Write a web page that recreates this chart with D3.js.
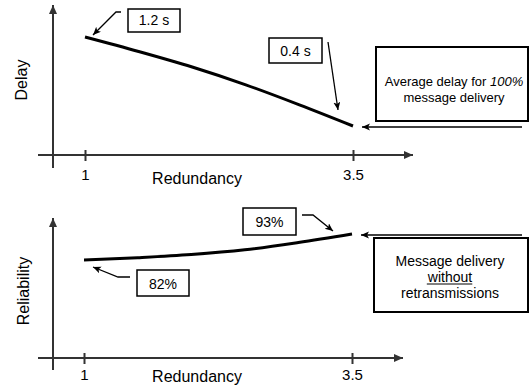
<!DOCTYPE html>
<html>
<head>
<meta charset="utf-8">
<script src="https://cdn.jsdelivr.net/npm/d3@7"></script>
<style>
  body { margin: 0; background: #fff; }
  svg { display: block; font-family: Arial, "Liberation Sans", sans-serif; }
</style>
</head>
<body>
<svg width="529" height="385"></svg>
<script>
// data
const redundancy = [1, 1.5, 2, 2.5, 3, 3.5];
const delay = [1.2, 1.07, 0.93, 0.77, 0.59, 0.4];
const reliability = [82, 83.0, 84.3, 86.3, 89.4, 93];
const xTicks = [1, 3.5];

const svg = d3.select('svg');
const axisColor = '#333';
const fontFamily = 'Arial, "Liberation Sans", sans-serif';

const defs = svg.append('defs');
defs.append('marker')
    .attr('id', 'axisHead')
    .attr('markerUnits', 'userSpaceOnUse')
    .attr('markerWidth', 10).attr('markerHeight', 10)
    .attr('refX', 9).attr('refY', 4)
    .attr('orient', 'auto')
  .append('path')
    .attr('d', 'M0,0 L9,4 L0,8 Z')
    .attr('fill', axisColor);

defs.append('marker')
    .attr('id', 'tip')
    .attr('markerUnits', 'userSpaceOnUse')
    .attr('markerWidth', 10).attr('markerHeight', 8)
    .attr('refX', 8).attr('refY', 3.5)
    .attr('orient', 'auto')
  .append('path')
    .attr('d', 'M0,0 L8,3.5 L0,7 L2,3.5 Z')
    .attr('fill', '#000');

const line = (x, y, values) => d3.line()
    .x((d, i) => x(redundancy[i]))
    .y(d => y(d))
    .curve(d3.curveMonotoneX)(values);

const drawPanel = p => {
  const g = svg.append('g');

  // axes with arrows
  g.append('line')
      .attr('x1', 53).attr('y1', p.axisBottom)
      .attr('x2', 53).attr('y2', p.axisTop)
      .attr('stroke', axisColor).attr('stroke-width', 2)
      .attr('marker-end', 'url(#axisHead)');
  g.append('line')
      .attr('x1', 38).attr('y1', p.axisY)
      .attr('x2', p.axisRight).attr('y2', p.axisY)
      .attr('stroke', axisColor).attr('stroke-width', 2)
      .attr('marker-end', 'url(#axisHead)');

  const xAxis = d3.axisBottom(p.x)
      .tickValues(xTicks)
      .tickSize(11)
      .tickFormat(d3.format(''));

  const ax = g.append('g')
      .attr('transform', `translate(0, ${p.axisY - 5})`)
      .call(xAxis)
      .attr('font-family', fontFamily)
      .attr('font-size', 15);
  ax.select('.domain').remove();
  ax.selectAll('.tick line').attr('stroke', axisColor).attr('stroke-width', 2);
  ax.selectAll('.tick text')
      .attr('y', p.labelY - (p.axisY - 5))
      .attr('dy', 0)
      .attr('fill', '#000');

  g.append('text')
      .attr('x', 197).attr('y', p.titleY)
      .attr('text-anchor', 'middle')
      .style('font-size', '16px')
      .text('Redundancy');

  g.append('text')
      .attr('transform', `translate(${p.yTitleX}, ${p.yTitleY}) rotate(-90)`)
      .attr('text-anchor', 'middle')
      .style('font-size', '16px')
      .text(p.yTitle);

  // the curve
  g.append('path')
      .attr('d', line(p.x, p.y, p.values))
      .attr('fill', 'none')
      .attr('stroke', '#000')
      .attr('stroke-width', 3);

  // small value boxes
  p.notes.forEach(n => {
    g.append('rect')
        .attr('x', n.box[0]).attr('y', n.box[1])
        .attr('width', n.box[2]).attr('height', n.box[3])
        .attr('fill', '#fff').attr('stroke', '#000').attr('stroke-width', 1.5);
    g.append('text')
        .attr('x', n.box[0] + n.box[2] / 2).attr('y', n.baseline)
        .attr('text-anchor', 'middle')
        .style('font-size', '14px')
        .text(n.label);
    g.append('polyline')
        .attr('points', n.arrow.map(d => d.join(',')).join(' '))
        .attr('fill', 'none').attr('stroke', '#000').attr('stroke-width', 1.3)
        .attr('marker-end', 'url(#tip)');
  });

  // explanation box and pointer to the curve end
  const b = p.bigBox;
  g.append('rect')
      .attr('x', b.box[0]).attr('y', b.box[1])
      .attr('width', b.box[2]).attr('height', b.box[3])
      .attr('fill', '#fff').attr('stroke', '#000').attr('stroke-width', 2);
  b.lines.forEach((l, i) => {
    const t = g.append('text')
        .attr('x', b.cx).attr('y', b.firstBaseline + i * 16)
        .attr('text-anchor', 'middle')
        .style('font-size', b.size + 'px');
    l.forEach(part => {
      t.append('tspan')
          .style('font-style', part.italic ? 'italic' : 'normal')
          .text(part.text);
    });
    if (l.underline) {
      const bb = t.node().getBBox();
      g.append('line')
          .attr('x1', bb.x).attr('x2', bb.x + bb.width)
          .attr('y1', b.firstBaseline + i * 16 + 2.5)
          .attr('y2', b.firstBaseline + i * 16 + 2.5)
          .attr('stroke', '#000').attr('stroke-width', 1);
    }
  });

  const endX = p.x(redundancy[redundancy.length - 1]);
  const endY = p.y(p.values[p.values.length - 1]);
  g.append('line')
      .attr('x1', 522).attr('y1', endY + 1)
      .attr('x2', endX + 9).attr('y2', endY + 1)
      .attr('stroke', '#000').attr('stroke-width', 1.5)
      .attr('marker-end', 'url(#tip)');
};

const withoutLine = [{ text: 'without' }];
withoutLine.underline = true;

drawPanel({
  values: delay,
  x: d3.scaleLinear().domain([1, 3.5]).range([85, 353]),
  y: d3.scaleLinear().domain([0.4, 1.2]).range([126, 37]),
  axisY: 155, axisTop: 5, axisBottom: 168, axisRight: 413,
  labelY: 180, titleY: 184,
  yTitle: 'Delay', yTitleX: 27, yTitleY: 80,
  notes: [
    { label: '1.2 s', box: [128, 9, 52, 23], baseline: 25,
      arrow: [[121, 12], [116, 12], [93, 35]] },
    { label: '0.4 s', box: [269, 38, 53, 25], baseline: 56,
      arrow: [[328, 42], [338, 110]] }
  ],
  bigBox: {
    box: [376, 47, 152, 74], cx: 454, firstBaseline: 86, size: 13,
    lines: [
      [{ text: 'Average delay for ' }, { text: '100%', italic: true }],
      [{ text: 'message delivery' }]
    ]
  }
});

drawPanel({
  values: reliability,
  x: d3.scaleLinear().domain([1, 3.5]).range([84, 352]),
  y: d3.scaleLinear().domain([82, 93]).range([260, 234]),
  axisY: 358, axisTop: 218, axisBottom: 370, axisRight: 403,
  labelY: 380, titleY: 382,
  yTitle: 'Reliability', yTitleX: 29, yTitleY: 291,
  notes: [
    { label: '93%', box: [243, 208, 53, 27], baseline: 226.5,
      arrow: [[302, 215], [313, 215], [333, 231]] },
    { label: '82%', box: [137, 270, 52, 26], baseline: 288.5,
      arrow: [[130, 277], [118, 277], [93, 267]] }
  ],
  bigBox: {
    box: [374, 238, 154, 74], cx: 450, firstBaseline: 265.5, size: 14,
    lines: [
      [{ text: 'Message delivery' }],
      withoutLine,
      [{ text: 'retransmissions' }]
    ]
  }
});
</script>
</body>
</html>
